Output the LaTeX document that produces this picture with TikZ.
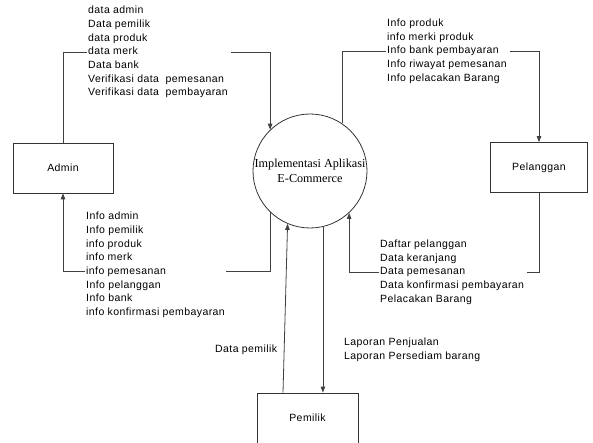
\documentclass[tikz,border=0pt]{standalone}
\usepackage{fontspec}
\setmainfont{Liberation Sans}
\newfontfamily\lblfont[LetterSpace=4]{Liberation Sans}
\newfontfamily\serifcirc{Liberation Serif}
\usetikzlibrary{arrows.meta}
\begin{document}
\begin{tikzpicture}[x=1pt,y=-1pt,
  flow/.style={draw=black!75,line width=0.8pt},
  arr/.style={flow,-{Triangle[length=6pt,width=4.5pt]}},
  ext/.style={draw=black!80,line width=0.8pt,minimum width=100pt,minimum height=50pt,font=\lblfont\fontsize{10.5}{12}\selectfont,inner sep=0pt},
  lbl/.style={align=left,inner sep=1pt,font=\lblfont\fontsize{10.5}{13.7}\selectfont},
  proc/.style={draw=black!80,line width=0.8pt,circle,minimum size=114pt,inner sep=0pt,align=center,font=\serifcirc\fontsize{12.2}{15}\selectfont}]
\useasboundingbox (0,0) rectangle (593,443);
\node[ext] (admin) at (63,168) {Admin};
\node[ext,minimum width=97pt] (pel) at (539,167.5) {Pelanggan};
\node[ext,minimum width=101pt] (pem) at (307.5,418) {Pemilik};
\node[proc] (sys) at (310,171) {Implementasi Aplikasi\\E-Commerce};
\node[lbl,anchor=west] (tl) at (87,52) {data admin\\Data pemilik\\data produk\\data merk\\Data bank\\Verifikasi data \ pemesanan\\Verifikasi data \ pembayaran};
\node[lbl,anchor=west] (tr) at (386,51) {Info produk\\info merki produk\\Info bank pembayaran\\Info riwayat pemesanan\\Info pelacakan Barang};
\node[lbl,anchor=west] (bl) at (85,265) {Info admin\\Info pemilik\\info produk\\info merk\\info pemesanan\\Info pelanggan\\Info bank\\info konfirmasi pembayaran};
\node[lbl,anchor=west] (br) at (379,272) {Daftar pelanggan\\Data keranjang\\Data pemesanan\\Data konfirmasi pembayaran\\Pelacakan Barang};
\node[lbl,anchor=west] (dp) at (214,350) {Data pemilik};
\node[lbl,anchor=west] (lap) at (343,350) {Laporan Penjualan\\Laporan Persediam barang};
% Admin -> system
\draw[flow] (admin.north) |- (tl.west);
\draw[arr] ([xshift=2pt]tl.east) -| (sys.134);
% system -> Pelanggan
\draw[flow] (sys.56) |- (tr.west);
\draw[arr] ([xshift=2pt]tr.east) -| (pel.north);
% system -> Admin
\draw[flow] (sys.226) |- ([yshift=-6.85pt]bl.east);
\draw[arr] ([yshift=-6.85pt]bl.west) -| (admin.south);
% Pelanggan -> system
\draw[flow] (pel.south) |- ([xshift=2pt]br.east);
\draw[arr] (br.west) -| (sys.313);
% Pemilik <-> system
\draw[arr] ([xshift=-24.5pt]pem.north) -- (sys.247);
\draw[arr] (sys.283) -- (sys.283 |- pem.north);
\end{tikzpicture}
\end{document}
